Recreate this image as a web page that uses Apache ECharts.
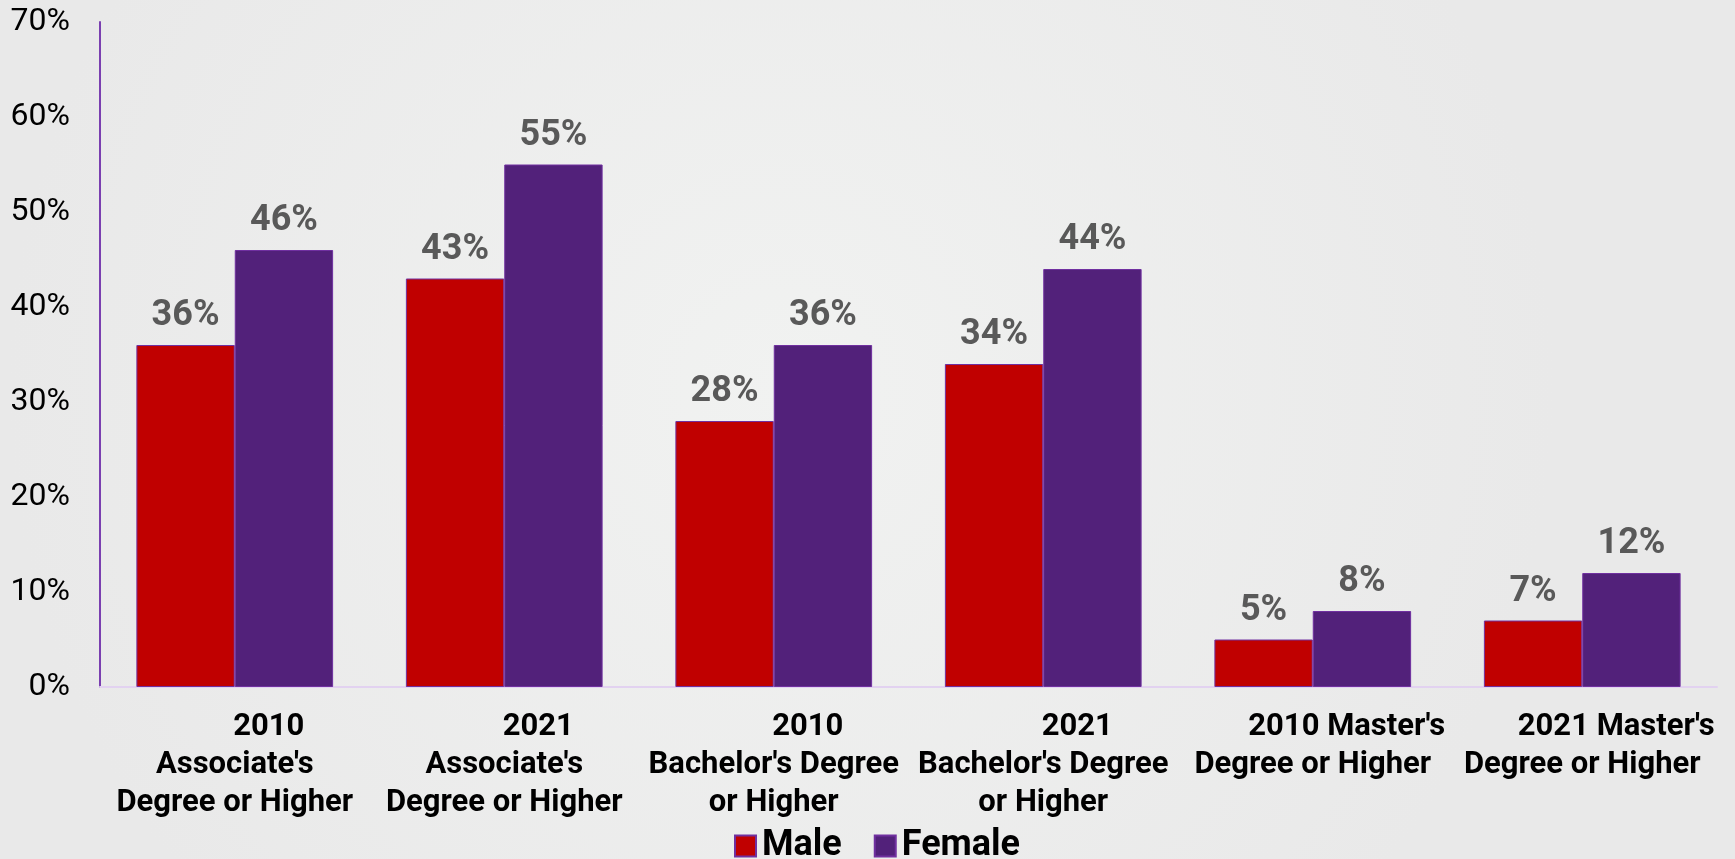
<!DOCTYPE html>
<html>
<head>
<meta charset="utf-8">
<script src="https://cdn.jsdelivr.net/npm/echarts@6/dist/echarts.min.js"></script>
<style>
html,body{margin:0;padding:0;background:#EDEEED;}
#chart{width:1735px;height:859px;}
</style>
</head>
<body>
<div id="chart"></div>
<script>
const categories = [
  "2010\nAssociate's\nDegree or Higher",
  "2021\nAssociate's\nDegree or Higher",
  "2010\nBachelor's Degree\nor Higher",
  "2021\nBachelor's Degree\nor Higher",
  "2010 Master's\nDegree or Higher",
  "2021 Master's\nDegree or Higher"
];
const maleValues = [36, 43, 28, 34, 5, 7];
const femaleValues = [46, 55, 36, 44, 8, 12];
const seriesNames = ["Male", "Female"];
const yTicks = { min: 0, max: 70, interval: 10 };

const chart = echarts.init(document.getElementById('chart'));
const labelStyle = {
  show: true,
  position: 'top',
  distance: 11,
  fontFamily: 'Roboto',
  fontWeight: 'bold',
  fontSize: 36,
  color: '#595959',
  formatter: p => p.value + '%'
};
chart.setOption({
  backgroundColor: {
    type: 'radial', x: 0.45, y: 0.45, r: 0.9,
    colorStops: [{offset: 0, color: '#F1F2F1'}, {offset: 1, color: '#E9E9E9'}]
  },
  animation: false,
  grid: { left: 100, right: 18, top: 22, bottom: 172, containLabel: false },
  legend: {
    data: seriesNames,
    left: 729,
    top: 823,
    itemWidth: 21,
    itemHeight: 21,
    itemGap: 32,
    icon: 'rect',
    textStyle: { fontFamily: 'Roboto', fontWeight: 'bold', fontSize: 36, color: '#000', padding: [0, 0, 0, 1] }
  },
  xAxis: {
    type: 'category',
    data: categories,
    axisLine: { show: true, lineStyle: { color: '#E2D2F0', width: 2 } },
    axisTick: { show: false },
    axisLabel: {
      interval: 0,
      hideOverlap: false,
      margin: 21,
      formatter: function (v) {
        const lines = v.split('\n');
        return ['{f|' + lines[0] + '}'].concat(lines.slice(1).map(l => '{n|' + l + '}')).join('\n');
      },
      rich: {
        f: { fontFamily: 'Roboto', fontWeight: 'bold', fontSize: 31, lineHeight: 38, color: '#000', padding: [0, 0, 0, 68] },
        n: { fontFamily: 'Roboto', fontWeight: 'bold', fontSize: 31, lineHeight: 38, color: '#000' }
      }
    }
  },
  yAxis: {
    type: 'value',
    min: yTicks.min, max: yTicks.max, interval: yTicks.interval,
    axisLine: { show: true, lineStyle: { color: '#7A3FB0', width: 2 } },
    axisTick: { show: false },
    splitLine: { show: false },
    axisLabel: { formatter: '{value}%', fontFamily: 'Roboto', fontSize: 32, color: '#000', margin: 30 }
  },
  series: [
    {
      name: seriesNames[0], type: 'bar', data: maleValues,
      barGap: '0%', barCategoryGap: '27%',
      itemStyle: { color: '#C00000', borderColor: '#7030A0', borderWidth: 1 },
      label: labelStyle
    },
    {
      name: seriesNames[1], type: 'bar', data: femaleValues,
      barGap: '0%', barCategoryGap: '27%',
      itemStyle: { color: '#52217A', borderColor: '#7030A0', borderWidth: 1 },
      label: labelStyle
    }
  ]
});
</script>
</body>
</html>
